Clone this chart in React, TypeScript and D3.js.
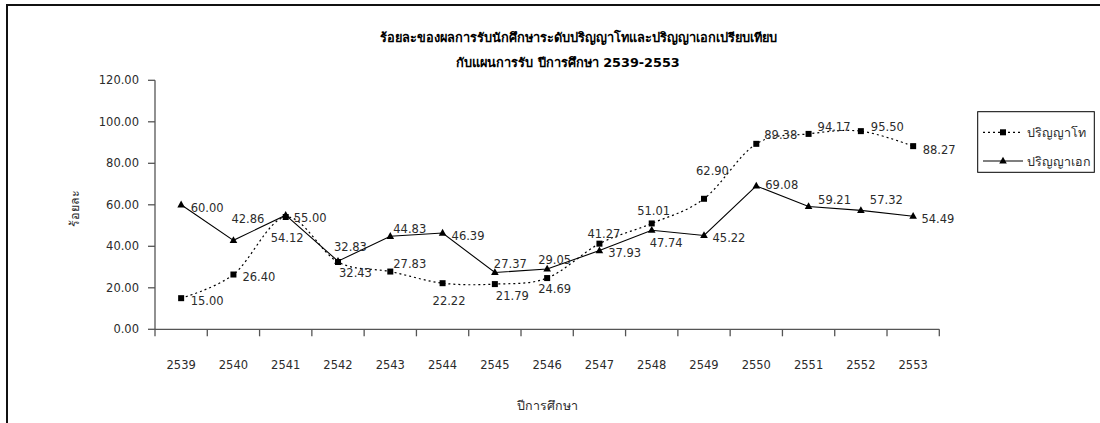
import React from 'react';
import * as d3 from 'd3';

// ---------- data ----------
const years = ['2539','2540','2541','2542','2543','2544','2545','2546','2547','2548','2549','2550','2551','2552','2553'];
const masterValues = [15.00, 26.40, 54.12, 32.43, 27.83, 22.22, 21.79, 24.69, 41.27, 51.01, 62.90, 89.38, 94.17, 95.50, 88.27];
const doctoralValues = [60.00, 42.86, 55.00, 32.83, 44.83, 46.39, 27.37, 29.05, 37.93, 47.74, 45.22, 69.08, 59.21, 57.32, 54.49];
const yTicks = [0, 20, 40, 60, 80, 100, 120];
const seriesNames = ['ปริญญาโท', 'ปริญญาเอก'];
const titleLines = ['ร้อยละของผลการรับนักศึกษาระดับปริญญาโทและปริญญาเอกเปรียบเทียบ', 'กับแผนการรับ ปีการศึกษา 2539-2553'];
const yAxisTitle = 'ร้อยละ';
const xAxisTitle = 'ปีการศึกษา';

// ---------- layout (label nudges relative to each point: [dx of left edge, dy of centre]) ----------
const masterLabelNudge: [number, number][] = [
  [9.5, 3], [9, 2], [-15, 21], [1, 11], [3, -8], [-10, 18], [1, 12], [-9, 11],
  [-12, -10], [-14.5, -12], [-8, -28], [8, -9], [9, -7], [10, -4], [9.5, 3.5],
];
const doctoralLabelNudge: [number, number][] = [
  [9.5, 3], [-2, -21], [8, 3], [-4, -14], [3, -7], [9, 3], [-1, -8.5], [-9, -9],
  [8.7, 2], [-2, 12.5], [8.5, 3], [9, -1], [9.5, -6], [9, -10], [8.3, 3],
];

const W = 1100;
const H = 423;
const plot = { left: 155, right: 939.3, top: 80.3, bottom: 329.3 };
const FONT = "Tahoma, 'DejaVu Sans', 'Noto Sans', sans-serif";
const TEXT = '#2b2b2b';

export default function App() {
  const x = d3.scaleBand<string>().domain(years).range([plot.left, plot.right]);
  const y = d3.scaleLinear().domain([0, 120]).range([plot.bottom, plot.top]);
  const cx = (i: number) => (x(years[i]) as number) + x.bandwidth() / 2;

  const masterLine = d3.line<number>()
    .x((_, i) => cx(i))
    .y((d) => y(d))
    .curve(d3.curveCardinal.tension(0));
  const doctoralLine = d3.line<number>()
    .x((_, i) => cx(i))
    .y((d) => y(d))
    .curve(d3.curveLinear);

  const boundaries = [...years.map((yr) => x(yr) as number), plot.right];
  const fmt = d3.format('.2f');

  const square = (px: number, py: number, key: string | number) => (
    <rect key={key} x={px - 3} y={py - 3} width={6} height={6} fill="#000" />
  );
  const triangle = (px: number, py: number, key: string | number) => (
    <path key={key} d={`M${px},${py - 4.2} L${px + 3.8},${py + 2.6} L${px - 3.8},${py + 2.6} Z`} fill="#000" />
  );

  const legendBox = { x: 977.7, y: 111.7, w: 116.6, h: 60.6 };
  const legendRows = [132.3, 161];

  return (
    <svg width={W} height={H} style={{ position: 'absolute', left: 0, top: 0, background: '#fff' }}
      fontFamily={FONT}>
      <rect x={0} y={0} width={W} height={H} fill="#fff" />
      {/* chart frame */}
      <rect x={7} y={5} width={W + 40} height={H + 40} fill="none" stroke="#111" strokeWidth={2} />

      {/* title */}
      <text x={578} y={37} textAnchor="middle" dominantBaseline="central" fontWeight="bold" fontSize={12.8} fill="#000">
        {titleLines[0]}
      </text>
      <text x={568} y={62} textAnchor="middle" dominantBaseline="central" fontWeight="bold" fontSize={12.8} fill="#000">
        {titleLines[1]}
      </text>

      {/* y axis */}
      <line x1={plot.left} x2={plot.left} y1={plot.top} y2={plot.bottom} stroke="#555" strokeWidth={1.3} />
      {yTicks.map((t) => (
        <g key={t}>
          <line x1={plot.left - 7} x2={plot.left} y1={y(t)} y2={y(t)} stroke="#555" strokeWidth={1.3} />
          <text x={139} y={y(t)} textAnchor="end" dominantBaseline="central" fontSize={11.5} fill={TEXT}>
            {fmt(t)}
          </text>
        </g>
      ))}
      <text transform={`translate(74,208) rotate(-90)`} textAnchor="middle" dominantBaseline="central" fontSize={12.5} fill={TEXT}>
        {yAxisTitle}
      </text>

      {/* x axis */}
      <line x1={plot.left} x2={plot.right} y1={plot.bottom} y2={plot.bottom} stroke="#555" strokeWidth={1.3} />
      {boundaries.map((b, i) => (
        <line key={i} x1={b} x2={b} y1={plot.bottom} y2={plot.bottom + 7} stroke="#555" strokeWidth={1.3} />
      ))}
      {years.map((yr, i) => (
        <text key={yr} x={cx(i)} y={364.5} textAnchor="middle" dominantBaseline="central" fontSize={11.5} fill={TEXT}>
          {yr}
        </text>
      ))}
      <text x={547.5} y={405.5} textAnchor="middle" dominantBaseline="central" fontSize={12.5} fill={TEXT}>
        {xAxisTitle}
      </text>

      {/* series lines */}
      <path d={masterLine(masterValues) || ''} fill="none" stroke="#000" strokeWidth={1.2} strokeDasharray="2,3" />
      <path d={doctoralLine(doctoralValues) || ''} fill="none" stroke="#000" strokeWidth={1.1} />

      {/* markers */}
      {masterValues.map((v, i) => square(cx(i), y(v), `m${i}`))}
      {doctoralValues.map((v, i) => triangle(cx(i), y(v), `d${i}`))}

      {/* data labels */}
      {masterValues.map((v, i) => (
        <text key={`ml${i}`} x={cx(i) + masterLabelNudge[i][0]} y={y(v) + masterLabelNudge[i][1]}
          dominantBaseline="central" fontSize={11.5} fill={TEXT}>
          {fmt(v)}
        </text>
      ))}
      {doctoralValues.map((v, i) => (
        <text key={`dl${i}`} x={cx(i) + doctoralLabelNudge[i][0]} y={y(v) + doctoralLabelNudge[i][1]}
          dominantBaseline="central" fontSize={11.5} fill={TEXT}>
          {fmt(v)}
        </text>
      ))}

      {/* legend */}
      <rect x={legendBox.x} y={legendBox.y} width={legendBox.w} height={legendBox.h} fill="#fff" stroke="#000" strokeWidth={1} />
      <line x1={983} x2={1023} y1={legendRows[0]} y2={legendRows[0]} stroke="#000" strokeWidth={1.2} strokeDasharray="2,3" />
      {square(1003, legendRows[0], 'lg0')}
      <text x={1027} y={legendRows[0]} dominantBaseline="central" fontSize={12.5} fill={TEXT}>{seriesNames[0]}</text>
      <line x1={983} x2={1023} y1={legendRows[1]} y2={legendRows[1]} stroke="#000" strokeWidth={1.1} />
      {triangle(1003, legendRows[1], 'lg1')}
      <text x={1027} y={legendRows[1]} dominantBaseline="central" fontSize={12.5} fill={TEXT}>{seriesNames[1]}</text>
    </svg>
  );
}
